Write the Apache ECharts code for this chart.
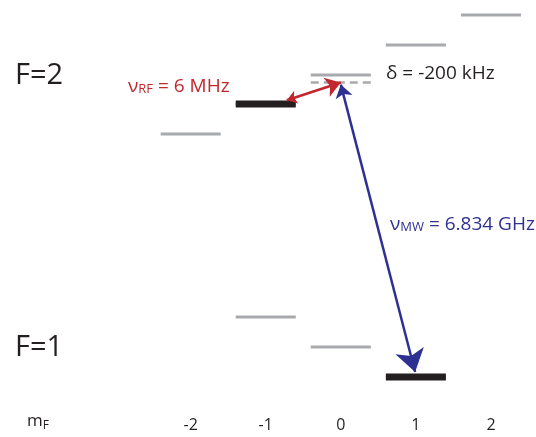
<!DOCTYPE html>
<html><head><meta charset="utf-8">
<script src="https://cdn.jsdelivr.net/npm/echarts@6/dist/echarts.min.js"></script>
<style>html,body{margin:0;padding:0;background:#fff}#c{width:536px;height:437px}</style>
</head><body><div id="c"></div>
<script>
// magnetic sublevels (x) and energies (arbitrary units)
const tickValues = [-2, -1, 0, 1, 2];
const tickLabels = ['-2', '-1', '0', '1', '2'];
const F2_m = [-2, -1, 0, 1, 2];
const F2_E = [8.13, 9.13, 10.1, 11.1, 12.1];
const F1_m = [-1, 0, 1];
const F1_E = [2.03, 1.03, 0.03];
const pop_m = [-1, 1];
const pop_E = [9.13, 0.03];
const virt_m = [0];
const virt_E = [9.85];
const rfArrow = [[-0.72, 9.26], [0.0, 9.85]];
const mwArrow = [[0.0, 9.78], [0.99, 0.2]];

const HALF = 0.4;
const FONT = '"Open Sans", "Noto Sans", sans-serif';
const BLACK = '#231f20', GRAY = '#a7a9ac', RED = '#c1272d', BLUE = '#2e3192';

function levelSeries(ms, es, stroke, width, dash) {
  return {
    type: 'custom', coordinateSystem: 'cartesian2d', clip: false, silent: true,
    data: ms.map((m, i) => [m, es[i]]),
    renderItem: (params, api) => {
      const m = api.value(0), e = api.value(1);
      const p1 = api.coord([m - HALF, e]), p2 = api.coord([m + HALF, e]);
      return { type: 'line', shape: { x1: p1[0], y1: p1[1], x2: p2[0], y2: p2[1] },
        style: { stroke: stroke, lineWidth: width, lineDash: dash || null } };
    }
  };
}

const chart = echarts.init(document.getElementById('c'), null, { renderer: 'canvas' });
chart.setOption({
  animation: false,
  grid: { left: 3, right: -3, top: 15, bottom: 59 },
  xAxis: { type: 'value', min: -4.5, max: 2.6,
    axisLine: { show: false }, axisTick: { show: false }, splitLine: { show: false },
    axisLabel: { customValues: tickValues, formatter: v => tickLabels[tickValues.indexOf(v)],
      margin: 39, fontSize: 16, color: BLACK, fontFamily: FONT } },
  yAxis: { type: 'value', min: 0, max: 12.1, show: false, splitLine: { show: false } },
  series: [
    levelSeries(F2_m, F2_E, GRAY, 3),
    levelSeries(F1_m, F1_E, GRAY, 3),
    levelSeries(virt_m, virt_E, GRAY, 2.5, [8, 5]),
    levelSeries(pop_m, pop_E, BLACK, 7),
    { type: 'lines', coordinateSystem: 'cartesian2d', silent: true,
      symbol: ['arrow', 'arrow'], symbolSize: [10, 15],
      lineStyle: { color: RED, width: 2.5, opacity: 1 },
      data: [{ coords: rfArrow }] },
    { type: 'lines', coordinateSystem: 'cartesian2d', silent: true,
      symbol: ['arrow', 'arrow'], symbolSize: [13, 22],
      lineStyle: { color: BLUE, width: 2.5, opacity: 1 },
      data: [{ coords: mwArrow }] }
  ],
  graphic: [
    { type: 'text', left: 15, top: 61, style: { text: 'F=2', fontSize: 29, fontFamily: FONT, fill: BLACK } },
    { type: 'text', left: 15, top: 333, style: { text: 'F=1', fontSize: 29, fontFamily: FONT, fill: BLACK } },
    { type: 'text', left: 27, top: 413, style: { text: '{a|m}{s|F}', fontFamily: FONT, fill: BLACK,
      rich: { a: { fontSize: 17, fontFamily: FONT, color: BLACK }, s: { fontSize: 12, fontFamily: FONT, color: BLACK, padding: [8, 0, 0, 0] } } } },
    { type: 'text', left: 128, top: 77, style: { text: '{a|ν}{s|RF}{a| = 6 MHz}', fontFamily: FONT, fill: RED,
      rich: { a: { fontSize: 19, fontFamily: FONT, color: RED }, s: { fontSize: 13, fontFamily: FONT, color: RED, padding: [5, 0, 0, 0] } } } },
    { type: 'text', left: 386, top: 64, style: { text: 'δ = -200 kHz', fontSize: 19, fontFamily: FONT, fill: BLACK } },
    { type: 'text', left: 390, top: 215, style: { text: '{a|ν}{s|MW}{a| = 6.834 GHz}', fontFamily: FONT, fill: BLUE,
      rich: { a: { fontSize: 19, fontFamily: FONT, color: BLUE }, s: { fontSize: 13, fontFamily: FONT, color: BLUE, padding: [5, 0, 0, 0] } } } }
  ]
});
</script></body></html>
